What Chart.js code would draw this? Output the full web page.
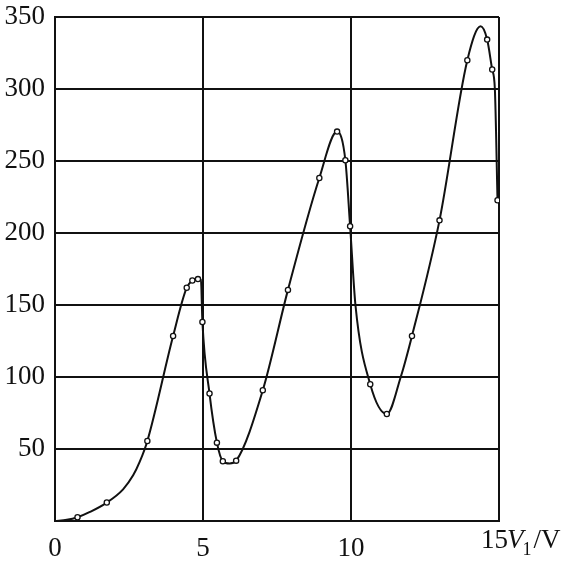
<!DOCTYPE html>
<html>
<head>
<meta charset="utf-8">
<script src="https://cdn.jsdelivr.net/npm/chart.js@4/dist/chart.umd.min.js"></script>
<style>
  html, body { margin: 0; padding: 0; background: #fff; }
</style>
</head>
<body>
<canvas id="myChart" width="572" height="561"></canvas>
<script>
// measured points (open circles)
var markerX = [0.76, 1.75, 3.12, 3.99, 4.45, 4.64, 4.83, 4.98, 5.22, 5.47, 5.67, 6.12, 7.02, 7.87, 8.93, 9.53, 9.81, 9.97, 10.65, 11.21, 12.06, 12.99, 13.93, 14.6, 14.77, 14.95];
var markerY = [2.6, 12.8, 55.6, 128.5, 162, 167, 168, 138.2, 88.5, 54.4, 41.5, 41.9, 90.8, 160.5, 238.2, 270.4, 250.5, 204.7, 95, 74.3, 128.5, 208.8, 320, 334.3, 313.5, 222.7];

// the smooth curve drawn through them (extra points)
var curveX = [0, 0.4, 0.76, 1.18, 1.75, 2.3, 2.64, 2.86, 3.12, 3.99, 4.45, 4.64, 4.83, 4.93, 4.98, 5.22, 5.47, 5.67, 5.9, 6.12, 7.02, 7.87, 8.93, 9.53, 9.81, 9.97, 10.15, 10.65, 11.21, 11.68, 12.06, 12.99, 13.93, 14.38, 14.6, 14.77, 14.86, 14.95];
var curveY = [0, 0.8, 2.6, 6.3, 12.8, 22, 31.7, 41, 55.6, 128.5, 162, 167, 168, 167.5, 138.2, 88.5, 54.4, 41.5, 39.9, 41.9, 90.8, 160.5, 238.2, 270.4, 250.5, 204.7, 150, 95, 74.3, 100, 128.5, 208.8, 320, 343.5, 334.3, 313.5, 300, 222.7];

var xTicks = [0, 5, 10, 15];
var yTicks = [50, 100, 150, 200, 250, 300, 350];

function pairs(xs, ys) {
    return xs.map(function(x, i) { return {x: x, y: ys[i]}; });
}

var serif = '"Liberation Serif", "DejaVu Serif", serif';

// axis title "15 V1/V" at the end of the x axis
var axisLabel = {
    id: 'axisLabel',
    afterDraw: function(chart) {
        var c = chart.ctx;
        var x = chart.scales.x.getPixelForValue(15) - 18;
        var base = 548;
        c.save();
        c.fillStyle = '#111';
        c.textBaseline = 'alphabetic';
        c.textAlign = 'left';
        c.font = '27px ' + serif;
        c.fillText('15', x, base);
        x += c.measureText('15').width - 1;
        c.font = 'italic 27px ' + serif;
        c.fillText('V', x, base);
        x += c.measureText('V').width;
        c.font = '18px ' + serif;
        c.fillText('1', x - 1, base + 7);
        x += c.measureText('1').width + 1;
        c.font = '27px ' + serif;
        c.fillText('/V', x, base);
        c.restore();
    }
};

var ctx = document.getElementById('myChart').getContext('2d');
var chart = new Chart(ctx, {
    type: 'line',
    data: {
        datasets: [{
            data: pairs(markerX, markerY),
            showLine: false,
            pointRadius: 2.6,
            pointBorderWidth: 1.3,
            pointBorderColor: '#111',
            pointBackgroundColor: '#fff',
            order: 0
        }, {
            data: pairs(curveX, curveY),
            borderColor: '#111',
            borderWidth: 2,
            pointRadius: 0,
            cubicInterpolationMode: 'monotone',
            fill: false,
            order: 1
        }]
    },
    options: {
        responsive: false,
        animation: false,
        layout: { padding: { left: 0, right: 73, top: 17, bottom: 0 } },
        plugins: { legend: { display: false }, tooltip: { enabled: false } },
        scales: {
            x: {
                type: 'linear',
                min: 0, max: 15,
                afterBuildTicks: function(s) { s.ticks = xTicks.map(function(v) { return {value: v}; }); },
                afterFit: function(s) { s.height = 40; s.paddingLeft = 0; s.paddingRight = 0; },
                ticks: {
                    color: '#111',
                    font: { family: serif, size: 27 },
                    padding: 12,
                    maxRotation: 0,
                    autoSkip: false,
                    callback: function(v) { return v === 15 ? '' : String(v); }
                },
                grid: { color: '#111', lineWidth: 2, drawTicks: false },
                border: { color: '#111', width: 2 }
            },
            y: {
                min: 0, max: 350,
                afterBuildTicks: function(s) { s.ticks = [0].concat(yTicks).map(function(v) { return {value: v}; }); },
                afterFit: function(s) { s.width = 55; s.paddingTop = 0; s.paddingBottom = 0; },
                ticks: {
                    color: '#111',
                    font: { family: serif, size: 27 },
                    padding: 10,
                    callback: function(v) { return v === 0 ? '' : String(v); }
                },
                grid: { color: '#111', lineWidth: 2, drawTicks: false },
                border: { color: '#111', width: 2 }
            }
        }
    },
    plugins: [axisLabel]
});
</script>
</body>
</html>
